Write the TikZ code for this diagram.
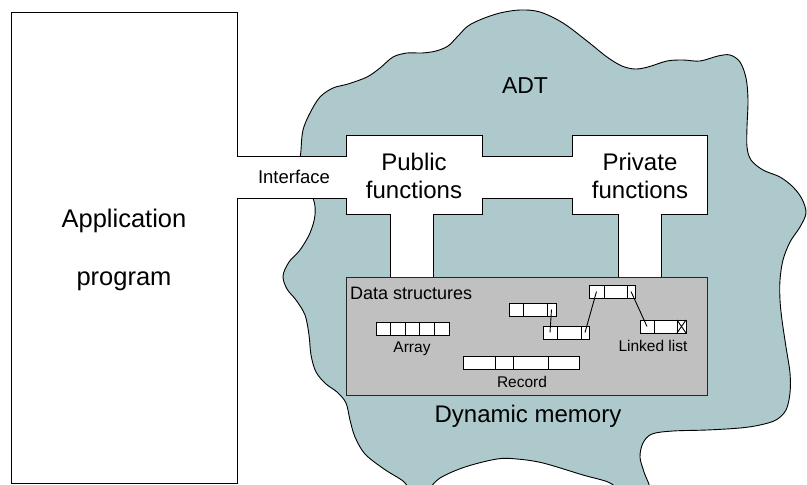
\documentclass[tikz,border=0pt]{standalone}
\usepackage{fontspec}
\setmainfont{Liberation Sans}
\usepackage{tikz}
\usetikzlibrary{positioning}
\definecolor{adtblue}{RGB}{173,201,204}
\definecolor{memgray}{RGB}{192,192,192}

\begin{document}
\begin{tikzpicture}[
    x=1pt, y=-1pt,
    adt blob/.style={draw=black, fill=adtblue, line width=0.9pt},
    open box/.style={draw=black, fill=white, line width=1pt, line join=miter},
    mem box/.style={draw=black!85, fill=memgray, line width=1pt, inner sep=0pt, outer sep=0pt, anchor=north west},
    cell/.style={draw=black, fill=white, line width=0.9pt, minimum height=13pt, inner sep=0pt, outer sep=0pt, anchor=north west},
    pointer/.style={draw=black, line width=0.9pt},
    big label/.style={font=\fontsize{24}{28}\selectfont, anchor=base, inner sep=0pt},
    app label/.style={font=\fontsize{25.5}{30}\selectfont, anchor=base, inner sep=0pt},
    mid label/.style={font=\fontsize{18.5}{22}\selectfont, anchor=base, inner sep=0pt},
    small label/.style={font=\fontsize{15.5}{18}\selectfont, anchor=base, inner sep=0pt}
]
    \useasboundingbox (0,0) rectangle (807,485);

    % ADT cloud (runs off the bottom edge)
    \begin{scope}
        \clip (0,0) rectangle (807,485);
        \draw[adt blob] plot[smooth cycle, tension=0.55] coordinates {
            (300,175) (301,150) (303,130) (310,113) (320,97) (333,88) (348,84)
            (367,77) (380,68) (393,57) (407,53) (422,53) (436,51) (448,46)
            (458,36) (468,26) (482,19) (500,13) (520,10) (540,12) (563,23)
            (587,41) (607,57) (622,66) (635,69) (648,67) (667,61) (683,60)
            (700,61) (718,56) (730,55) (740,62) (746,78) (748,100) (747,127)
            (747,147) (751,160) (763,170) (780,177) (793,187) (802,199) (806,213)
            (800,227) (790,242) (783,260) (780,280) (780,300) (782,320) (786,347)
            (790,373) (790,393) (786,410) (776,420) (760,425) (740,428) (707,430)
            (673,431) (652,434) (643,443) (640,457) (644,472) (650,490) (640,500)
            (620,490) (608,482) (583,475) (543,463) (517,459) (497,459) (465,467)
            (440,478) (428,490) (418,497) (410,490) (403,481) (384,469) (365,454)
            (355,437) (350,420) (346,403) (337,392) (326,384) (316,372) (311,355)
            (309,335) (305,315) (296,300) (287,289) (283,276) (289,262) (300,250)
            (310,233) (315,215) (313,198)};
    \end{scope}

    % Application program, interface and function boxes (one white outline)
    \draw[open box] (11,12) -- (237,12) -- (237,156) -- (346,156) -- (346,135)
        -- (482,135) -- (482,156) -- (572,156) -- (572,135) -- (707,135)
        -- (707,214) -- (661,214) -- (661,277) -- (618,277) -- (618,214)
        -- (572,214) -- (572,198) -- (482,198) -- (482,214) -- (433,214)
        -- (433,277) -- (390,277) -- (390,214) -- (346,214) -- (346,198)
        -- (237,198) -- (237,483) -- (11,483) -- cycle;

    % Data structures area
    \node[mem box, minimum width=361pt, minimum height=118pt] (mem) at (346,277) {};

    % Labels
    \node[app label] (app1) at (124,227) {Application};
    \node[app label] (app2) at (124,285) {program};
    \node[mid label] (iface) at (294,183) {Interface};
    \node[big label, font=\fontsize{23}{27}\selectfont] (adt) at (525,93) {ADT};
    \node[big label] (pub1) at (414,170) {Public};
    \node[big label] (pub2) at (414,198) {functions};
    \node[big label] (priv1) at (640,170) {Private};
    \node[big label] (priv2) at (640,198) {functions};
    \node[big label] (dyn) at (528,422) {Dynamic memory};
    \node[small label, font=\fontsize{18}{21}\selectfont, anchor=base west] (dslabel) at (350,299) {Data structures};

    % Array
    \node[cell, minimum width=14.6pt] (arr1) at (376,322) {};
    \node[cell, minimum width=14.6pt] (arr2) at (390.6,322) {};
    \node[cell, minimum width=14.6pt] (arr3) at (405.2,322) {};
    \node[cell, minimum width=14.6pt] (arr4) at (419.8,322) {};
    \node[cell, minimum width=14.6pt] (arr5) at (434.4,322) {};
    \node[small label] (arrlabel) at (412,352) {Array};

    % Record
    \node[cell, minimum width=32pt] (rec1) at (463,356) {};
    \node[cell, minimum width=18pt] (rec2) at (495,356) {};
    \node[cell, minimum width=35pt] (rec3) at (513,356) {};
    \node[cell, minimum width=31pt] (rec4) at (548,356) {};
    \node[small label] (reclabel) at (522,387) {Record};

    % Linked list nodes
    \node[cell, minimum width=14pt] (lsta1) at (509,303) {};
    \node[cell, minimum width=24pt] (lsta2) at (523,303) {};
    \node[cell, minimum width=9pt] (lsta3) at (547,303) {};
    \node[cell, minimum width=14pt] (lstb1) at (543,326) {};
    \node[cell, minimum width=24pt] (lstb2) at (557,326) {};
    \node[cell, minimum width=8pt] (lstb3) at (581,326) {};
    \node[cell, minimum width=15pt] (lstc1) at (589,285) {};
    \node[cell, minimum width=23pt] (lstc2) at (604,285) {};
    \node[cell, minimum width=8pt] (lstc3) at (627,285) {};
    \node[cell, minimum width=14pt] (lstd1) at (640,320) {};
    \node[cell, minimum width=23pt] (lstd2) at (654,320) {};
    \node[cell, minimum width=9pt] (lstd3) at (677,320) {};
    \node[small label] (lstlabel) at (653,351) {Linked list};

    % Pointers
    \draw[pointer] (lsta3.center) -- (lstb1.center);
    \draw[pointer] (lstb3.center) -- (lstc1.center);
    \draw[pointer] (lstc3.center) -- (lstd1.center);
    \draw[pointer] (lstd3.north west) -- (lstd3.south east)
        (lstd3.north east) -- (lstd3.south west);
\end{tikzpicture}
\end{document}
